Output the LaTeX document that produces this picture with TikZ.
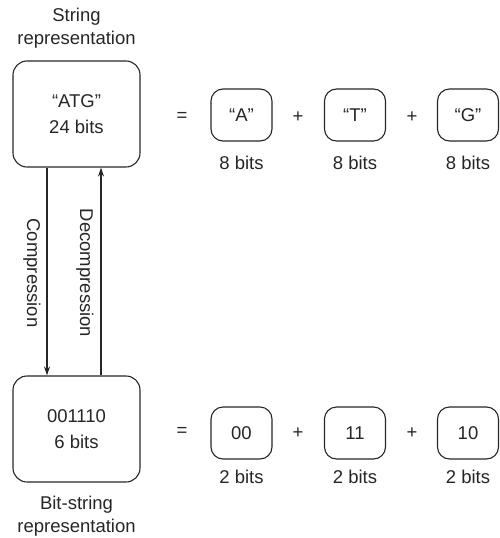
\documentclass[tikz,border=0pt]{standalone}
\usepackage{fontspec}
\setmainfont{Liberation Sans}
\usetikzlibrary{arrows.meta}
\begin{document}
\begin{tikzpicture}[x=1pt,y=-1pt,
  every node/.style={font=\fontsize{18.5}{26}\selectfont, text=black!85},
  bigbox/.style={draw=black!85, line width=1.1pt, rounded corners=14pt, minimum width=127pt, minimum height=106pt, align=center, inner sep=0pt},
  smallbox/.style={draw=black!85, line width=1.1pt, rounded corners=12pt, minimum width=61pt, minimum height=52pt, inner sep=0pt},
  plain/.style={inner sep=0pt, align=center},
  caption/.style={inner sep=0pt, align=center, font=\fontsize{18.5}{22.5}\selectfont},
  conn/.style={draw=black!85, line width=1.1pt, -{Stealth[length=9pt,width=6pt]}}]
\useasboundingbox (0,0) rectangle (499,538);
% top row
\node[caption] (toplab) at (76.5,28) {String\\representation};
\node[bigbox] (top) at (76.5,114) {``ATG''\\24 bits};
\node[plain] (eq1) at (182,117) {=};
\node[smallbox] (a) at (241.5,115) {``A''};
\node[plain] (p1) at (298,117) {+};
\node[smallbox] (t) at (355,115) {``T''};
\node[plain] (p2) at (412,117) {+};
\node[smallbox] (g) at (468,115) {``G''};
\node[plain] (abits) at (241.5,163) {8 bits};
\node[plain] (tbits) at (355,163) {8 bits};
\node[plain] (gbits) at (468,163) {8 bits};
% bottom row
\node[bigbox] (bot) at (76.5,429) {001110\\6 bits};
\node[plain] (eq2) at (182,432) {=};
\node[smallbox] (b1) at (241.5,433) {00};
\node[plain] (p3) at (298,433) {+};
\node[smallbox] (b2) at (355,433) {11};
\node[plain] (p4) at (412,433) {+};
\node[smallbox] (b3) at (468,433) {10};
\node[plain] (b1bits) at (241.5,477) {2 bits};
\node[plain] (b2bits) at (355,477) {2 bits};
\node[plain] (b3bits) at (468,477) {2 bits};
\node[caption] (botlab) at (76.5,516) {Bit-string\\representation};
% arrows
\draw[conn] ([xshift=-29.5pt]top.south) -- ([xshift=-29.5pt]bot.north);
\draw[conn] ([xshift=24.5pt]bot.north) -- ([xshift=24.5pt]top.south);
\node[plain, rotate=-90] (comp) at (32,273) {Compression};
\node[plain, rotate=-90] (decomp) at (85,273) {Decompression};
\end{tikzpicture}
\end{document}
